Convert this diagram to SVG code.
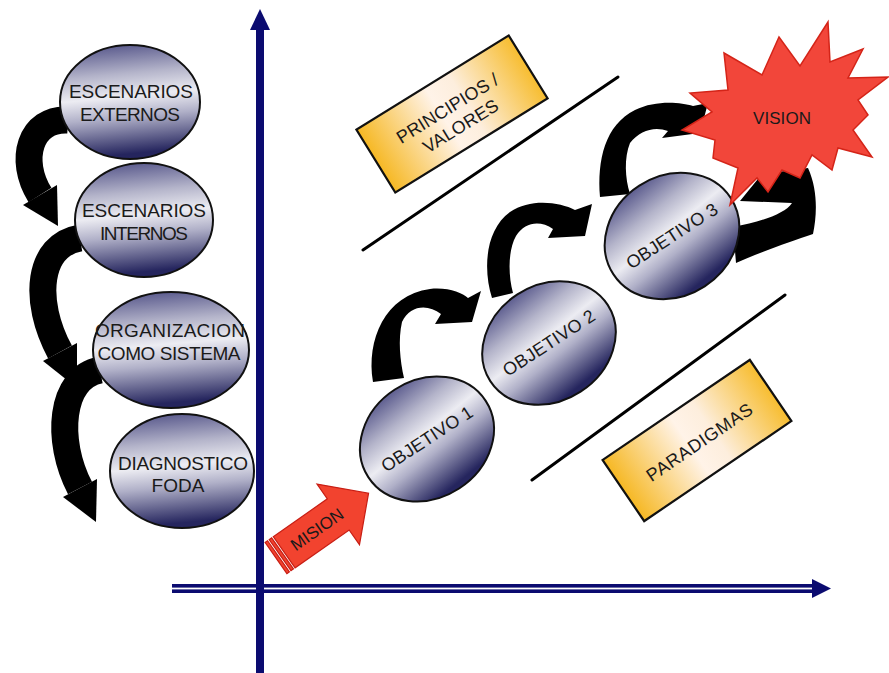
<svg xmlns="http://www.w3.org/2000/svg" width="889" height="673" viewBox="0 0 889 673">
  <defs>
    <linearGradient id="ballGrad" x1="0" y1="0" x2="0.12" y2="1">
      <stop offset="0" stop-color="#4a4a82"/>
      <stop offset="0.3" stop-color="#b4b4ca"/>
      <stop offset="0.5" stop-color="#ececf2"/>
      <stop offset="0.68" stop-color="#b0b0c8"/>
      <stop offset="1" stop-color="#25255e"/>
    </linearGradient>
    <linearGradient id="noteGrad" x1="0" y1="0" x2="1" y2="0">
      <stop offset="0" stop-color="#f6b824"/>
      <stop offset="0.45" stop-color="#fff3e8"/>
      <stop offset="0.6" stop-color="#fdeedd"/>
      <stop offset="1" stop-color="#f7bd30"/>
    </linearGradient>
    <style>
      .ball { fill: url(#ballGrad); stroke: #111; stroke-width: 2; }
      .note { fill: url(#noteGrad); stroke: #111; stroke-width: 2.2; }
      .lbl { font-family: "Liberation Sans", Arial, sans-serif; font-size: 18px; fill: #1a1a1a; text-anchor: middle; }
      .big { font-size: 19px; }
      .swoosh { fill: none; stroke: #000; stroke-width: 27; }
      .head { fill: #000; }
      .axis { fill: #0b0b70; }
      .rule { stroke: #000; stroke-width: 3; stroke-linecap: round; }
    </style>
  </defs>

  <!-- axes -->
  <g id="axes">
    <rect class="axis" x="172" y="584" width="643" height="9"/>
    <rect x="172" y="587.6" width="643" height="1.8" fill="#ffffff"/>
    <polygon class="axis" points="812,579 831,588.5 812,598"/>
    <rect class="axis" x="256" y="27" width="8" height="646"/>
    <polygon class="axis" points="260,9 250,30 270,30"/>
  </g>

  <!-- boundary rules -->
  <g id="rules">
    <line class="rule" x1="363" y1="250" x2="618" y2="77"/>
    <line class="rule" x1="532" y1="480" x2="785" y2="295"/>
  </g>

  <!-- value / paradigm notes -->
  <g id="principios" transform="translate(452,114) rotate(-31.7)">
    <rect class="note" x="-89.5" y="-37" width="179" height="74"/>
    <text class="lbl" x="-1" y="-1" textLength="116">PRINCIPIOS /</text>
    <text class="lbl" x="1" y="21" textLength="85">VALORES</text>
  </g>
  <g id="paradigmas" transform="translate(697,440.5) rotate(-34.2)">
    <rect class="note" x="-89" y="-37" width="178" height="74"/>
    <text class="lbl" x="1" y="9" textLength="124">PARADIGMAS</text>
  </g>

  <!-- curved connectors -->
  <g id="connectors">
    <!-- left column -->
    <path class="swoosh" d="M 68 120 C 30 118, 18 160, 40 195"/>
    <polygon class="head" points="23,205 57,185 58,226"/>
    <path class="swoosh" d="M 80 238 C 38 245, 32 300, 60 352"/>
    <polygon class="head" points="43,361 77,343 77,388"/>
    <path class="swoosh" d="M 100 370 C 60 378, 55 440, 80 488"/>
    <polygon class="head" points="63,497 97,479 96,522"/>
    <!-- right diagonal -->
    <path class="head" d="M 373 382 C 366 340, 385 295, 430 289 C 448 287, 462 293, 468 298 L 481 291 L 472 322 L 435 324 L 441 314 C 428 304, 410 305, 402 322 C 398 340, 400 360, 404 378 Z"/>
    <path class="head" d="M 492 298 C 483 270, 485 230, 510 212 C 530 198, 560 202, 575 210 L 592 204 L 585 236 L 548 238 L 553 229 C 540 220, 525 222, 516 236 C 508 250, 508 275, 513 293 Z"/>
    <path class="head" d="M 600 197 C 597 160, 605 125, 635 110 C 655 100, 680 102, 693 106 L 708 103 L 700 133 L 662 138 L 668 131 C 655 126, 640 130, 630 143 C 624 158, 625 178, 630 194 Z"/>
    <path class="head" d="M 733 227 C 760 222, 785 214, 792 203 L 740 201 L 762 174 L 808 168 C 818 190, 817 215, 813 234 C 790 242, 760 252, 736 263 Z"/>
  </g>

  <!-- left column stages -->
  <g id="escenarios-externos">
    <ellipse class="ball" cx="130" cy="102" rx="70" ry="57"/>
    <text class="lbl big" x="131" y="98" textLength="124">ESCENARIOS</text>
    <text class="lbl big" x="130" y="121" textLength="100">EXTERNOS</text>
  </g>
  <g id="escenarios-internos">
    <ellipse class="ball" cx="144" cy="220" rx="69" ry="57"/>
    <text class="lbl big" x="144" y="217" textLength="124">ESCENARIOS</text>
    <text class="lbl big" x="144" y="240" textLength="88">INTERNOS</text>
  </g>
  <g id="organizacion">
    <ellipse class="ball" cx="171" cy="350" rx="78" ry="58"/>
    <text class="lbl big" x="170" y="337" textLength="150">ORGANIZACION</text>
    <text class="lbl big" x="169" y="360" textLength="143">COMO SISTEMA</text>
  </g>
  <g id="diagnostico">
    <ellipse class="ball" cx="182" cy="471" rx="72" ry="57"/>
    <text class="lbl big" x="183" y="470" textLength="130">DIAGNOSTICO</text>
    <text class="lbl big" x="178" y="492">FODA</text>
  </g>

  <!-- mission arrow -->
  <g id="mision" transform="translate(276,558) rotate(-35)">
    <g fill="#f2432f" stroke="#c81e14" stroke-width="1.2">
      <rect x="0" y="-19" width="3" height="38"/>
      <rect x="5" y="-19" width="3" height="38"/>
      <path d="M 10 -19 L 76 -19 L 76 -37 L 113 0 L 76 37 L 76 19 L 10 19 Z"/>
    </g>
    <text class="lbl" x="50" y="6" style="font-size:17px" textLength="60">MISION</text>
  </g>

  <!-- objectives -->
  <g id="objetivo-1" transform="translate(427,439) rotate(-33)">
    <ellipse class="ball" cx="0" cy="0" rx="70" ry="59"/>
    <text class="lbl" x="0" y="6" textLength="105">OBJETIVO 1</text>
  </g>
  <g id="objetivo-2" transform="translate(549,343) rotate(-33)">
    <ellipse class="ball" cx="0" cy="0" rx="70" ry="58"/>
    <text class="lbl" x="0" y="6" textLength="106">OBJETIVO 2</text>
  </g>
  <g id="objetivo-3" transform="translate(672,236) rotate(-33)">
    <ellipse class="ball" cx="0" cy="0" rx="70" ry="60"/>
    <text class="lbl" x="0" y="6" textLength="105">OBJETIVO 3</text>
  </g>

  <!-- vision burst -->
  <g id="vision">
    <polygon fill="#f2463a" stroke="#d42418" stroke-width="1.5" points="828,22 830,62 863,49 848,78 888,77 858,100 868,115 853,130 872,157 838,148 832,170 812,155 800,178 782,170 768,192 757,178 730,205 738,168 713,158 715,140 682,130 712,112 690,93 728,90 724,53 762,75 779,37 800,66"/>
    <text class="lbl" x="782" y="124" style="font-size:17px" textLength="58">VISION</text>
  </g>
</svg>
